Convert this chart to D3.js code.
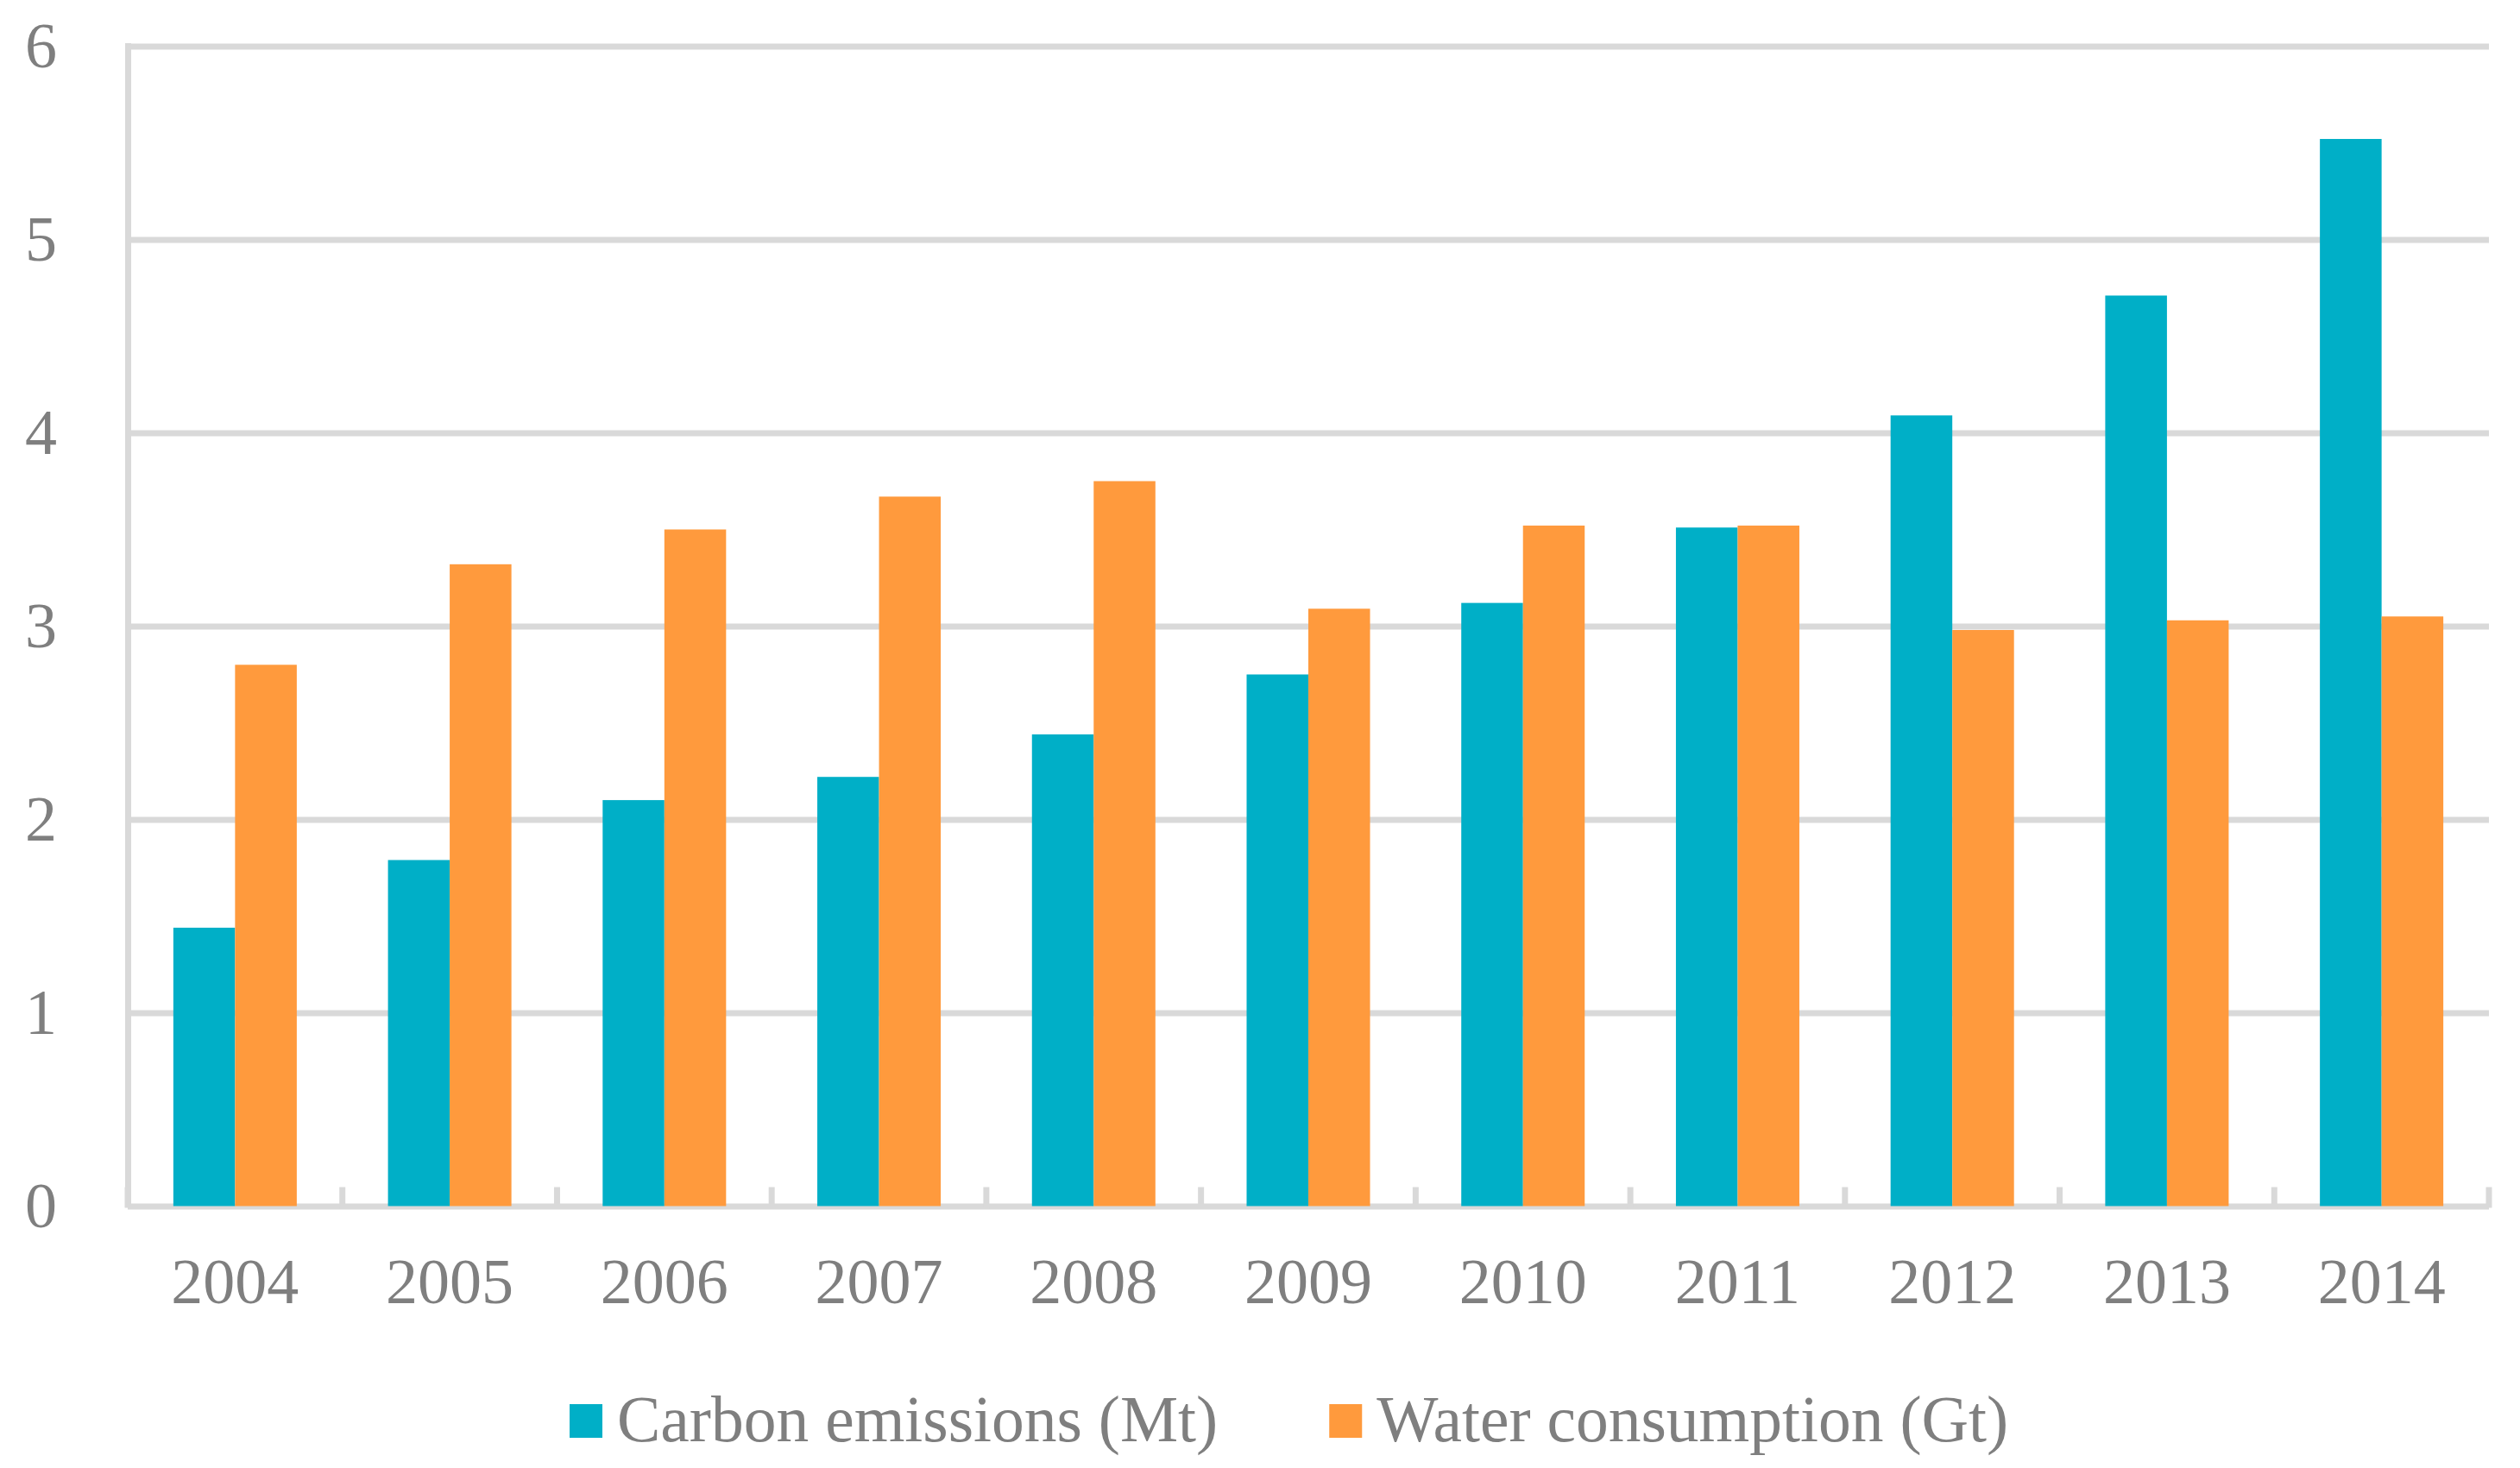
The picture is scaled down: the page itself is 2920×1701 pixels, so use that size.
<!DOCTYPE html>
<html>
<head>
<meta charset="utf-8">
<script src="https://cdn.jsdelivr.net/npm/d3@7"></script>
<style>
  body { margin: 0; background: #fff; }
  svg text { font-family: "Liberation Serif", "Times New Roman", serif; fill: #7f7f7f; }
</style>
</head>
<body>
<svg id="chart" width="2920" height="1701"></svg>
<script>
var years = ["2004","2005","2006","2007","2008","2009","2010","2011","2012","2013","2014"];
var carbon = [1.44, 1.79, 2.10, 2.22, 2.44, 2.75, 3.12, 3.51, 4.09, 4.71, 5.52];
var water = [2.80, 3.32, 3.50, 3.67, 3.75, 3.09, 3.52, 3.52, 2.98, 3.03, 3.05];
var seriesNames = ["Carbon emissions (Mt)", "Water consumption (Gt)"];
var seriesColors = ["#00afc7", "#ff9a3d"];
var yTicks = [0, 1, 2, 3, 4, 5, 6];

var svg = d3.select("#chart");
var plotLeft = 148, plotRight = 2884, plotTop = 53.5, plotBottom = 1397.5;
var plotW = plotRight - plotLeft;
var gridColor = "#d9d9d9";
var fontSize = 74;

var y = d3.scaleLinear().domain([0, 6]).range([plotBottom, plotTop]);
var x0 = d3.scaleBand().domain(years).range([plotLeft, plotRight]).paddingInner(0.425).paddingOuter(0.2125);
var x1 = d3.scaleBand().domain(seriesNames).range([0, x0.bandwidth()]);

var rows = years.map((yr, i) => ({year: yr, values: [carbon[i], water[i]]}));

// gridlines + y labels
var yAxis = svg.append("g")
    .attr("transform", `translate(${plotLeft},0)`)
    .call(d3.axisLeft(y).tickValues(yTicks).tickFormat(d3.format("d")).tickSize(-plotW).tickPadding(82));
yAxis.select(".domain").remove();
yAxis.attr("font-family", null).attr("font-size", null);
yAxis.selectAll("line").attr("stroke", gridColor).attr("stroke-width", 7);
yAxis.selectAll("text")
    .attr("x", 47.5 - plotLeft)
    .attr("text-anchor", "middle")
    .attr("font-size", fontSize)
    .attr("fill", "#7f7f7f");

// left vertical line
svg.append("line")
    .attr("x1", plotLeft + 0.5).attr("x2", plotLeft + 0.5)
    .attr("y1", y(6) - 3.5).attr("y2", y(0) + 1)
    .attr("stroke", gridColor).attr("stroke-width", 7);

// category boundary ticks
var step = x0.step();
svg.append("g").selectAll("line")
    .data(d3.range(years.length + 1))
    .join("line")
    .attr("x1", d => plotLeft + d * step)
    .attr("x2", d => plotLeft + d * step)
    .attr("y1", y(0) - 22)
    .attr("y2", y(0) + 2)
    .attr("stroke", gridColor)
    .attr("stroke-width", 7);

// bars
svg.append("g").selectAll("g")
    .data(rows)
    .join("g")
    .attr("transform", d => `translate(${x0(d.year)},0)`)
    .selectAll("rect")
    .data(d => d.values.map((v, j) => ({name: seriesNames[j], value: v, color: seriesColors[j]})))
    .join("rect")
    .attr("x", d => x1(d.name))
    .attr("width", x1.bandwidth())
    .attr("y", d => y(d.value))
    .attr("height", d => y(0) - y(d.value))
    .attr("fill", d => d.color);

// x labels
var xAxis = svg.append("g")
    .attr("transform", `translate(0,${plotBottom})`)
    .call(d3.axisBottom(x0).tickSize(0).tickPadding(60));
xAxis.select(".domain").remove();
xAxis.attr("font-family", null).attr("font-size", null);
xAxis.selectAll("text").attr("font-size", fontSize).attr("fill", "#7f7f7f");

// legend
var legend = svg.append("g");
var lx = 660;
seriesNames.forEach((name, i) => {
    legend.append("rect")
        .attr("x", lx).attr("y", 1627)
        .attr("width", 38).attr("height", 39)
        .attr("fill", seriesColors[i]);
    var t = legend.append("text")
        .attr("x", lx + 55).attr("y", 1670)
        .attr("font-size", 75.5)
        .text(name);
    lx = lx + 55 + t.node().getComputedTextLength() + 129;
});
</script>
</body>
</html>
